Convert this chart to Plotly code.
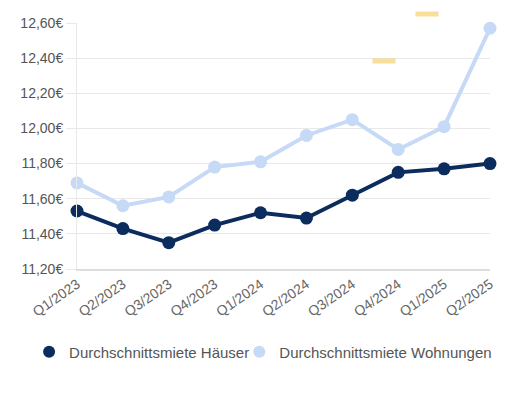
import plotly.graph_objects as go

quarters = ["Q1/2023", "Q2/2023", "Q3/2023", "Q4/2023", "Q1/2024",
            "Q2/2024", "Q3/2024", "Q4/2024", "Q1/2025", "Q2/2025"]
haeuser = [11.53, 11.43, 11.35, 11.45, 11.52, 11.49, 11.62, 11.75, 11.77, 11.80]
wohnungen = [11.69, 11.56, 11.61, 11.78, 11.81, 11.96, 12.05, 11.88, 12.01, 12.57]
highlight_x = [6.7, 7.63]
highlight_y = [12.385, 12.65]
y_ticks = [11.2, 11.4, 11.6, 11.8, 12.0, 12.2, 12.4, 12.6]
y_labels = [f"{v:.2f}".replace(".", ",") + "\u20ac" for v in y_ticks]

xs = list(range(len(quarters)))
navy = "#0C2C5E"
light = "#C6D9F6"
font = "Liberation Sans, Arial, sans-serif"
y_min, y_max = y_ticks[0], y_ticks[-1]
x_min, x_max = xs[0], xs[-1]

fig = go.Figure()
for name, vals, col in [("Durchschnittsmiete Häuser", haeuser, navy),
                        ("Durchschnittsmiete Wohnungen", wohnungen, light)]:
    fig.add_trace(go.Scatter(
        x=xs, y=vals, name=name, mode="lines+markers", showlegend=False,
        line=dict(color=col, width=4), marker=dict(color=col, size=13),
        cliponaxis=False))
for name, col, leg in [("Durchschnittsmiete Häuser", navy, "legend"),
                       ("Durchschnittsmiete Wohnungen", light, "legend2")]:
    fig.add_trace(go.Scatter(
        x=[None], y=[None], name=name, mode="markers", legend=leg,
        marker=dict(color=col, size=15)))

for hx, hy in zip(highlight_x, highlight_y):
    fig.add_annotation(
        xref="paper", yref="paper", xanchor="center", yanchor="middle",
        x=(hx - x_min) / (x_max - x_min), y=(hy - y_min) / (y_max - y_min),
        text=" ", showarrow=False, width=22, height=4, borderpad=0,
        font=dict(size=1), bgcolor="rgba(246,214,120,0.75)")

leg_common = dict(orientation="h", xanchor="left", y=-0.337, yanchor="middle",
                  font=dict(size=15, color="#555555"), itemsizing="constant",
                  bgcolor="rgba(0,0,0,0)")

fig.update_layout(
    width=525, height=394,
    margin=dict(l=77, r=35, t=23, b=125, autoexpand=False),
    paper_bgcolor="white", plot_bgcolor="white",
    font=dict(family=font, size=14, color="#555555"),
    showlegend=True,
    legend=dict(x=-0.116, **leg_common),
    legend2=dict(x=0.393, **leg_common),
    xaxis=dict(
        range=[x_min, x_max], tickmode="array", tickvals=xs, ticktext=quarters,
        tickangle=-35, showgrid=False, zeroline=False,
        showline=True, linecolor="#dddddd", linewidth=1.5,
        ticks="", tickfont=dict(size=14, color="#666666"), automargin=False),
    yaxis=dict(
        range=[y_min, y_max], tickmode="array", tickvals=y_ticks, ticktext=y_labels,
        showgrid=True, gridcolor="#e8e8e8", gridwidth=1,
        zeroline=False, showline=True, linecolor="#e8e8e8", linewidth=1,
        ticks="outside", ticklen=10, tickcolor="#e8e8e8",
        tickfont=dict(size=14, color="#555555"), automargin=False),
)

fig.write_html("out.html", config={"displayModeBar": False},
               post_script="document.body.style.margin='0';")
